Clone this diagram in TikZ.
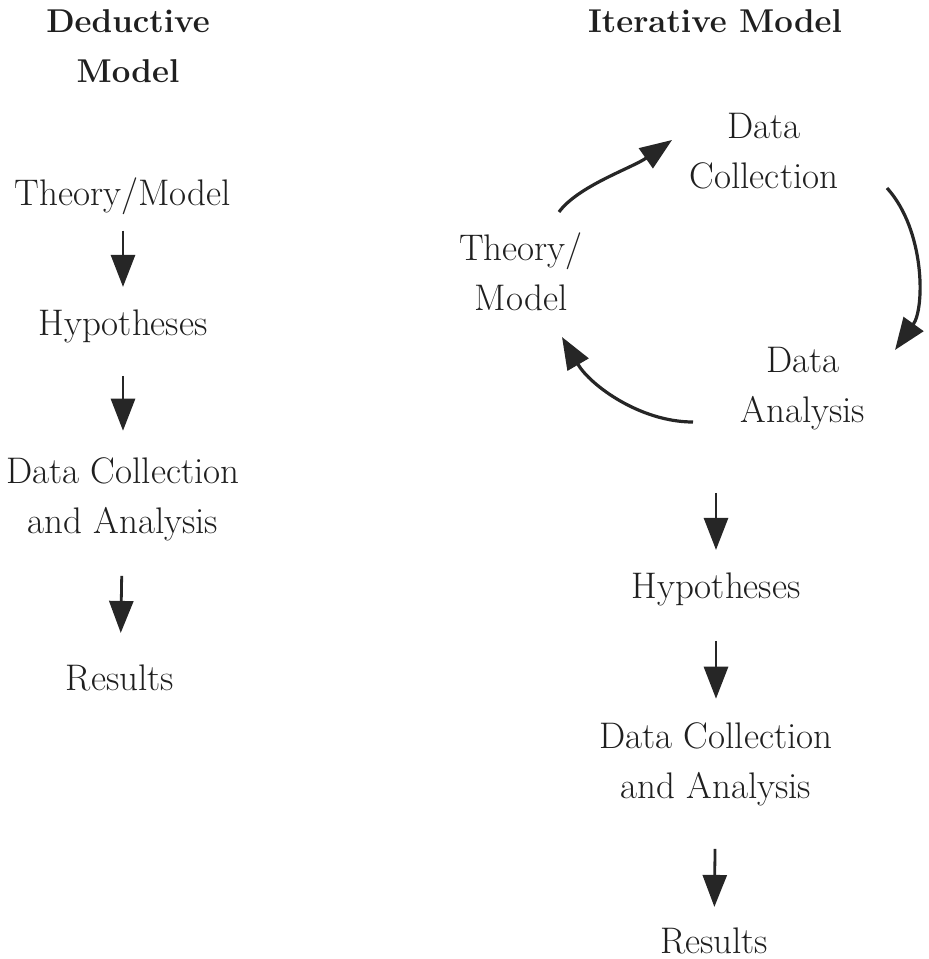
\documentclass[tikz,border=0pt]{standalone}
\usetikzlibrary{arrows.meta}

\begin{document}
\begin{tikzpicture}[x=0.5pt,y=-0.5pt,
  txt/.style={anchor=base,align=center,inner sep=0pt,text=black!88,font=\fontsize{18.5}{25}\selectfont},
  ttl/.style={anchor=base,align=center,inner sep=0pt,text=black!88,font=\fontsize{16.5}{25}\selectfont\bfseries},
  arr/.style={-{Triangle[length=16pt,width=12pt]},line width=1.4pt,black!85},
  cyc/.style={arr,line width=1.6pt}]
\useasboundingbox (0,0) rectangle (928,959);

\node[ttl] (dedT) at (128,82) {Deductive\\Model};
\node[txt] (theoL) at (123,205) {Theory/Model};
\node[txt] (hypoL) at (123,335) {Hypotheses};
\node[txt] (dcaL) at (123,533) {Data Collection\\and Analysis};
\node[txt] (resL) at (120,690) {Results};

\draw[arr,shorten <=8pt,shorten >=11pt] (theoL) -- (hypoL);
\draw[arr,shorten <=16.5pt,shorten >=13pt] (hypoL) -- (dcaL);
\draw[arr,shorten <=17.5pt,shorten >=15.5pt] (dcaL) -- (resL);

\node[ttl] (itT) at (715,32) {Iterative Model};
\node[txt] (dcR) at (764,188) {Data\\Collection};
\node[txt] (thR) at (521,310) {Theory/\\Model};
\node[txt] (daR) at (803,422) {Data\\Analysis};

\draw[cyc] ([shift={(38,-98)}]thR.base) .. controls +(19,-26) and +(-40,28) .. ([shift={(-92,-48)}]dcR.base);
\draw[cyc] ([shift={(123,0)}]dcR.base) .. controls +(38,42) and +(30,-42) .. ([shift={(92,-72)}]daR.base);
\draw[cyc] ([shift={(-110,0)}]daR.base) .. controls +(-53,0) and +(28,48) .. ([shift={(41,27)}]thR.base);

\node[txt] (hypoR) at (716,598) {Hypotheses};
\node[txt] (dcaR) at (716,798) {Data Collection\\and Analysis};
\node[txt] (resR) at (714,953) {Results};

\draw[arr,shorten <=31.5pt,shorten >=11pt] (daR.south -| hypoR.north) -- (hypoR.north);
\draw[arr,shorten <=17.5pt,shorten >=11.5pt] (hypoR) -- (dcaR);
\draw[arr,shorten <=21.5pt,shorten >=10pt] (dcaR) -- (resR);
\end{tikzpicture}
\end{document}
